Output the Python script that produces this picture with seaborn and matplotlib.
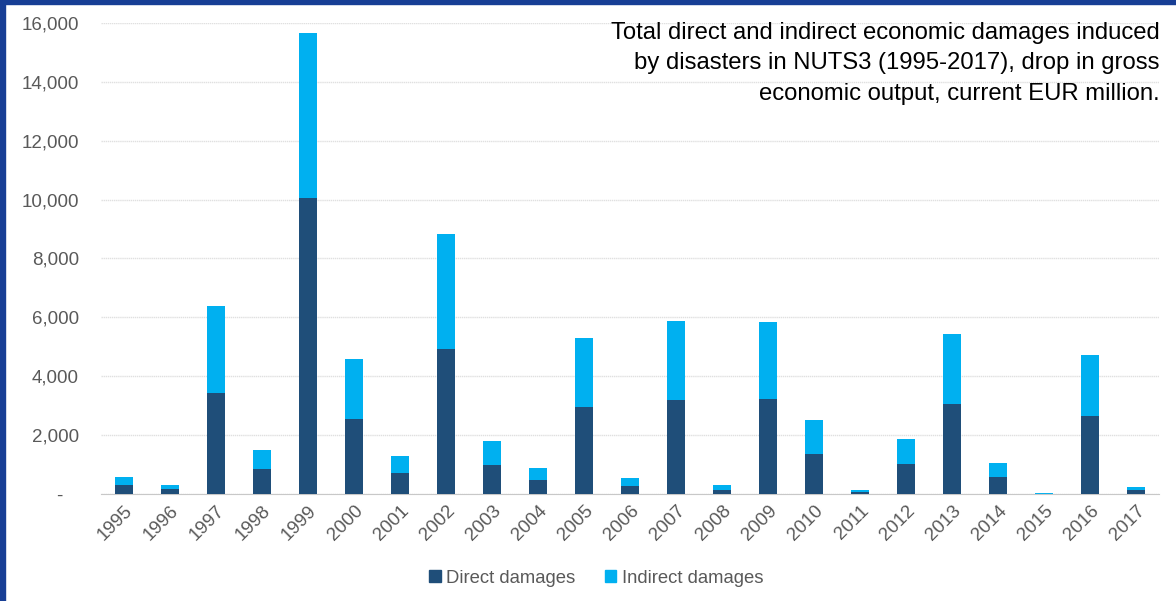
import seaborn as sns
import pandas as pd
import matplotlib.pyplot as plt
from matplotlib.patches import Patch, Rectangle
from matplotlib.ticker import FuncFormatter

years = [str(y) for y in range(1995, 2018)]
direct = [310, 160, 3420, 860, 10060, 2560, 720, 4930, 980, 480, 2970, 270,
          3210, 125, 3230, 1350, 80, 1010, 3060, 590, 10, 2660, 140]
total = [570, 310, 6390, 1500, 15660, 4580, 1290, 8840, 1790, 880, 5300, 540,
         5860, 310, 5840, 2500, 135, 1880, 5450, 1060, 50, 4730, 240]

dark = "#1F4E79"
light = "#00B0F0"
grey = "#595959"

df = pd.DataFrame({"year": years, "direct": direct, "total": total})

sns.set_style("white")
plt.rcParams["font.family"] = ["Liberation Sans", "DejaVu Sans"]

fig = plt.figure(figsize=(11.76, 6.01), dpi=100)
ax = fig.add_axes([0.0859, 0.178, 0.9, 0.7838])

sns.barplot(data=df, x="year", y="total", color=light, width=0.39,
            saturation=1, linewidth=0, ax=ax, zorder=2)
sns.barplot(data=df, x="year", y="direct", color=dark, width=0.39,
            saturation=1, linewidth=0, ax=ax, zorder=3)

ax.set_ylim(0, 16000)
ax.set_xlim(-0.5, 22.5)
ax.set_yticks(range(0, 16001, 2000))
ax.yaxis.set_major_formatter(FuncFormatter(lambda v, p: "-   " if v == 0 else f"{v:,.0f}"))
ax.grid(axis="y", color="#E0E0E0", lw=1.0, ls=(0, (1, 0.5)), zorder=0)
ax.set_xlabel("")
ax.set_ylabel("")
for s in ["top", "right", "left"]:
    ax.spines[s].set_visible(False)
ax.spines["bottom"].set_color("#C8C8C8")
ax.tick_params(axis="y", length=0, pad=16, labelsize=13.5, labelcolor=grey)
ax.tick_params(axis="x", length=0, pad=6, labelsize=13.5, labelcolor=grey)
plt.setp(ax.get_xticklabels(), rotation=45, ha="right", rotation_mode="anchor")

fig.text(0.986, 0.964,
         "Total direct and indirect economic damages induced\n"
         "by disasters in NUTS3 (1995-2017), drop in gross\n"
         "economic output, current EUR million.",
         ha="right", va="top", fontsize=17.2, linespacing=1.5, color="black")

handles = [Patch(color=dark, label="Direct damages"),
           Patch(color=light, label="Indirect damages")]
fig.legend(handles=handles, loc="center", bbox_to_anchor=(0.507, 0.038),
           ncol=2, frameon=False, fontsize=13.3, handlelength=0.6,
           handleheight=0.6, handletextpad=0.3, columnspacing=1.6,
           labelcolor=grey)

# page frame (left and top)
border = "#173E95"
fig.patches.append(Rectangle((0, 0), 5 / 1176, 1, transform=fig.transFigure,
                             color=border, zorder=10))
fig.patches.append(Rectangle((0, 1 - 4 / 601), 1, 4 / 601,
                             transform=fig.transFigure, color=border, zorder=10))

fig.savefig("out.png", dpi=100)
